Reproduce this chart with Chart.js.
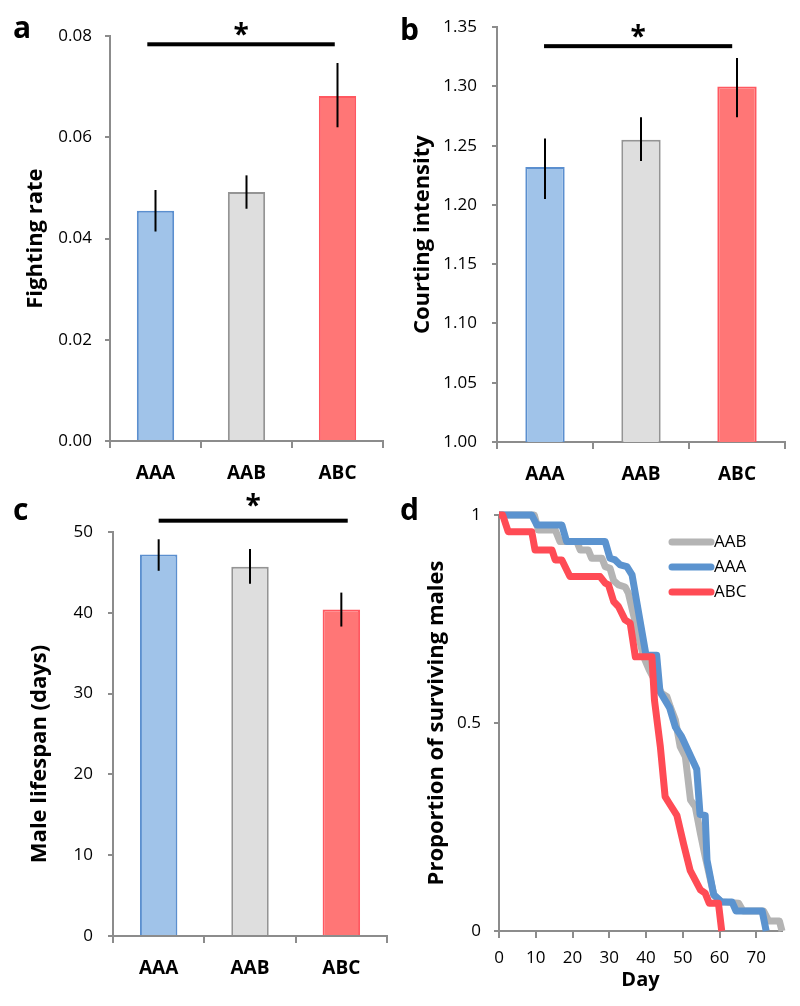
<!DOCTYPE html>
<html>
<head>
<meta charset="utf-8">
<script src="https://cdn.jsdelivr.net/npm/chart.js@4.4.0/dist/chart.umd.min.js"></script>
<style>
  body { margin: 0; background: #fff; width: 800px; height: 1006px; position: relative; overflow: hidden; }
  canvas { position: absolute; }
</style>
</head>
<body>
<canvas id="chartA" width="400" height="487" style="left:0;top:13px"></canvas>
<canvas id="chartB" width="400" height="498" style="left:400px;top:2px"></canvas>
<canvas id="chartC" width="400" height="526" style="left:0;top:480px"></canvas>
<canvas id="chartD" width="400" height="526" style="left:400px;top:480px"></canvas>
<script>
// group names
const groups = ['AAA', 'AAB', 'ABC'];

// a: fighting rate (mean, error bar ends)
const fightMean = [0.0455, 0.0492, 0.0682];
const fightLow = [0.0414, 0.0459, 0.0620];
const fightHigh = [0.0496, 0.0525, 0.0747];

// b: courting intensity
const courtMean = [1.232, 1.255, 1.300];
const courtLow = [1.205, 1.237, 1.274];
const courtHigh = [1.256, 1.274, 1.324];

// c: male lifespan (days)
const lifeMean = [47.2, 45.7, 40.4];
const lifeLow = [45.2, 43.6, 38.3];
const lifeHigh = [49.1, 47.9, 42.5];

// d: survival curves, [day, proportion surviving]
const survAAB = [[0,1],[9.6,1],[10.7,0.964],[15.3,0.964],[16.6,0.936],[21.2,0.936],[22.1,0.916],[24.3,0.916],
  [25.2,0.896],[28,0.896],[28.9,0.876],[30.2,0.872],[31.2,0.842],[32.5,0.832],[34.3,0.827],[35.2,0.812],
  [39.3,0.66],[40.9,0.627],[44.3,0.571],[45.7,0.563],[46.6,0.539],[48,0.507],[49.3,0.443],[50.7,0.419],
  [52.1,0.315],[53.4,0.299],[54.8,0.235],[56.1,0.179],[58.5,0.085],[60.5,0.07],[65.2,0.067],[66.4,0.048],
  [72,0.048],[73.4,0.024],[76.3,0.024],[77,0]];
const survAAA = [[0,1],[8.9,1],[10.3,0.976],[17.1,0.976],[18.4,0.936],[28.9,0.936],[30.2,0.896],[31.6,0.892],
  [33,0.88],[34.8,0.876],[36.2,0.856],[40,0.663],[42.9,0.663],[43.8,0.575],[46.4,0.537],[48,0.49],
  [49.7,0.467],[53.8,0.389],[54.7,0.28],[56.1,0.278],[56.6,0.17],[58.4,0.088],[60.5,0.07],[63.4,0.07],
  [64.5,0.048],[71.6,0.048],[72.7,0]];
const survABC = [[0,1],[1,1],[2.5,0.96],[8.9,0.96],[9.8,0.916],[14.4,0.916],[15.3,0.892],[17.1,0.892],
  [19.3,0.852],[27.5,0.852],[28.9,0.836],[29.8,0.832],[31.2,0.792],[32.5,0.78],[34.3,0.748],[35.7,0.74],
  [37.1,0.659],[41.6,0.659],[42.3,0.555],[43.9,0.443],[45.2,0.323],[46.1,0.31],[48.4,0.278],[50.2,0.21],
  [52,0.146],[54.8,0.099],[56.1,0.091],[57.2,0.067],[59.7,0.067],[60.6,0]];
const dayTicks = [0, 10, 20, 30, 40, 50, 60, 70];

const FONT = "'Open Sans', sans-serif";
const AXIS = '#8c8c8c';
const barFill = ['#a0c3e9', '#dedede', '#ff7676'];
const barEdge = ['#5b8fcf', '#949494', '#ff5860'];

Chart.defaults.font.family = FONT;
Chart.defaults.color = '#000';

// error bars drawn through the y scale
const errorBars = (low, high) => ({
  id: 'errorBars',
  afterDatasetsDraw(chart) {
    const { ctx, scales: { y } } = chart;
    const bars = chart.getDatasetMeta(0).data;
    ctx.save();
    ctx.strokeStyle = '#000';
    ctx.lineWidth = 2;
    bars.forEach((bar, i) => {
      ctx.beginPath();
      ctx.moveTo(bar.x, y.getPixelForValue(low[i]));
      ctx.lineTo(bar.x, y.getPixelForValue(high[i]));
      ctx.stroke();
    });
    ctx.restore();
  }
});

// significance bar with a star; from/to in category units
const sigBar = (from, to, level, starDy) => ({
  id: 'sigBar',
  afterDraw(chart) {
    const { ctx, scales: { x, y } } = chart;
    const x0 = x.getPixelForValue(0) + from * (x.getPixelForValue(1) - x.getPixelForValue(0));
    const x1 = x.getPixelForValue(0) + to * (x.getPixelForValue(1) - x.getPixelForValue(0));
    const yy = y.getPixelForValue(level);
    ctx.save();
    ctx.fillStyle = '#000';
    ctx.fillRect(x0, yy - 2, x1 - x0, 4);
    ctx.font = `bold 28px ${FONT}`;
    ctx.textAlign = 'center';
    ctx.textBaseline = 'alphabetic';
    ctx.fillText('*', (x0 + x1) / 2, yy + starDy);
    ctx.restore();
  }
});

const panelLabel = (text, px, py) => ({
  id: 'panelLabel',
  afterDraw(chart) {
    const ctx = chart.ctx;
    ctx.save();
    ctx.font = `bold 30px ${FONT}`;
    ctx.fillStyle = '#000';
    ctx.textBaseline = 'alphabetic';
    ctx.fillText(text, px, py);
    ctx.restore();
  }
});

function axisGrid(len) {
  return { display: true, drawOnChartArea: false, drawTicks: true, tickLength: len, color: AXIS, lineWidth: 2 };
}

function barPanel(id, p) {
  new Chart(document.getElementById(id), {
    type: 'bar',
    data: {
      labels: groups,
      datasets: [{
        data: p.mean,
        backgroundColor: barFill,
        borderColor: barEdge,
        borderWidth: 2,
        categoryPercentage: 1,
        barPercentage: 0.41
      }]
    },
    options: {
      responsive: false,
      animation: false,
      layout: { padding: { top: p.padTop, right: p.padRight, bottom: 0, left: 0 } },
      plugins: { legend: { display: false }, tooltip: { enabled: false } },
      scales: {
        x: {
          grid: Object.assign(axisGrid(7), { offset: true }),
          border: { display: true, color: AXIS, width: 2 },
          ticks: { font: { size: 19, weight: 'bold' }, color: '#000', padding: 14 },
          afterFit: s => { s.height = p.xHeight; }
        },
        y: {
          min: p.min, max: p.max,
          grid: axisGrid(5),
          border: { display: true, color: AXIS, width: 2 },
          ticks: { stepSize: p.step, font: { size: 17 }, color: '#000', padding: p.tickPad,
                   callback: v => v.toFixed(p.digits) },
          title: { display: true, text: p.title, font: { size: 22, weight: 'bold' }, color: '#000',
                   padding: { top: p.titlePad, bottom: 0 } },
          afterFit: s => { s.width = p.yWidth; }
        }
      }
    },
    plugins: [errorBars(p.low, p.high), sigBar(p.sig[0], p.sig[1], p.sig[2], p.starDy),
              panelLabel(p.letter[0], p.letter[1], p.letter[2])]
  });
}

barPanel('chartA', {
  mean: fightMean, low: fightLow, high: fightHigh, min: 0, max: 0.08, step: 0.02, digits: 2,
  title: 'Fighting rate', padTop: 20, padRight: 17, xHeight: 59, yWidth: 110, tickPad: 13, titlePad: 23,
  sig: [-0.09, 1.97, 0.0784], starDy: 0, letter: ['a', 13, 25]
});

barPanel('chartB', {
  mean: courtMean, low: courtLow, high: courtHigh, min: 1, max: 1.35, step: 0.05, digits: 2,
  title: 'Courting intensity', padTop: 20, padRight: 15, xHeight: 58, yWidth: 97, tickPad: 15, titlePad: 10,
  sig: [-0.01, 1.95, 1.334], starDy: 0, letter: ['b', 0, 38]
});

barPanel('chartC', {
  mean: lifeMean, low: lifeLow, high: lifeHigh, min: 0, max: 50, step: 10, digits: 0,
  title: 'Male lifespan (days)       ', padTop: 52, padRight: 13, xHeight: 70, yWidth: 113, tickPad: 15, titlePad: 27,
  sig: [0, 2.07, 51.4], starDy: -6, letter: ['c', 13, 40]
});

// d: survival curves
const survLegend = {
  id: 'survLegend',
  afterDatasetsDraw(chart) {
    const ctx = chart.ctx;
    ctx.save();
    chart.data.datasets.forEach((ds, i) => {
      const yy = 62 + i * 25;
      ctx.strokeStyle = ds.borderColor;
      ctx.lineWidth = 7;
      ctx.lineCap = 'round';
      ctx.beginPath();
      ctx.moveTo(272, yy);
      ctx.lineTo(311, yy);
      ctx.stroke();
      ctx.fillStyle = '#000';
      ctx.font = `17px ${FONT}`;
      ctx.textBaseline = 'middle';
      ctx.fillText(ds.label, 314, yy);
    });
    ctx.restore();
  }
};

const toPoints = arr => arr.map(([x, y]) => ({ x, y }));
const lineStyle = { borderWidth: 7, pointRadius: 0, tension: 0, fill: false, borderJoinStyle: 'round', clip: false };

new Chart(document.getElementById('chartD'), {
  type: 'line',
  data: {
    datasets: [
      Object.assign({ label: 'AAB', data: toPoints(survAAB), borderColor: '#b4b4b4', order: 3 }, lineStyle),
      Object.assign({ label: 'AAA', data: toPoints(survAAA), borderColor: '#5b93cf', order: 2 }, lineStyle),
      Object.assign({ label: 'ABC', data: toPoints(survABC), borderColor: '#ff4b55', order: 1 }, lineStyle)
    ]
  },
  options: {
    responsive: false,
    animation: false,
    layout: { padding: { top: 35, right: 18, bottom: 0, left: 0 } },
    plugins: { legend: { display: false }, tooltip: { enabled: false } },
    scales: {
      x: {
        type: 'linear', min: 0, max: 77,
        grid: axisGrid(7),
        border: { display: true, color: AXIS, width: 2 },
        ticks: { stepSize: 10, includeBounds: false, font: { size: 17 }, color: '#000', padding: 10,
                 callback: v => dayTicks.includes(v) ? v : '' },
        title: { display: true, text: 'Day', font: { size: 20, weight: 'bold' }, color: '#000',
                 padding: { top: 0, bottom: 14 } },
        afterFit: s => { s.height = 75; }
      },
      y: {
        min: 0, max: 1,
        grid: axisGrid(5),
        border: { display: true, color: AXIS, width: 2 },
        ticks: { stepSize: 0.5, font: { size: 17 }, color: '#000', padding: 13, callback: v => `${v}` },
        title: { display: true, text: 'Proportion of surviving males', font: { size: 22, weight: 'bold' },
                 color: '#000', padding: { top: 24, bottom: 0 } },
        afterFit: s => { s.width = 99; }
      }
    }
  },
  plugins: [survLegend, panelLabel('d', 0, 40)]
});
</script>
</body>
</html>
